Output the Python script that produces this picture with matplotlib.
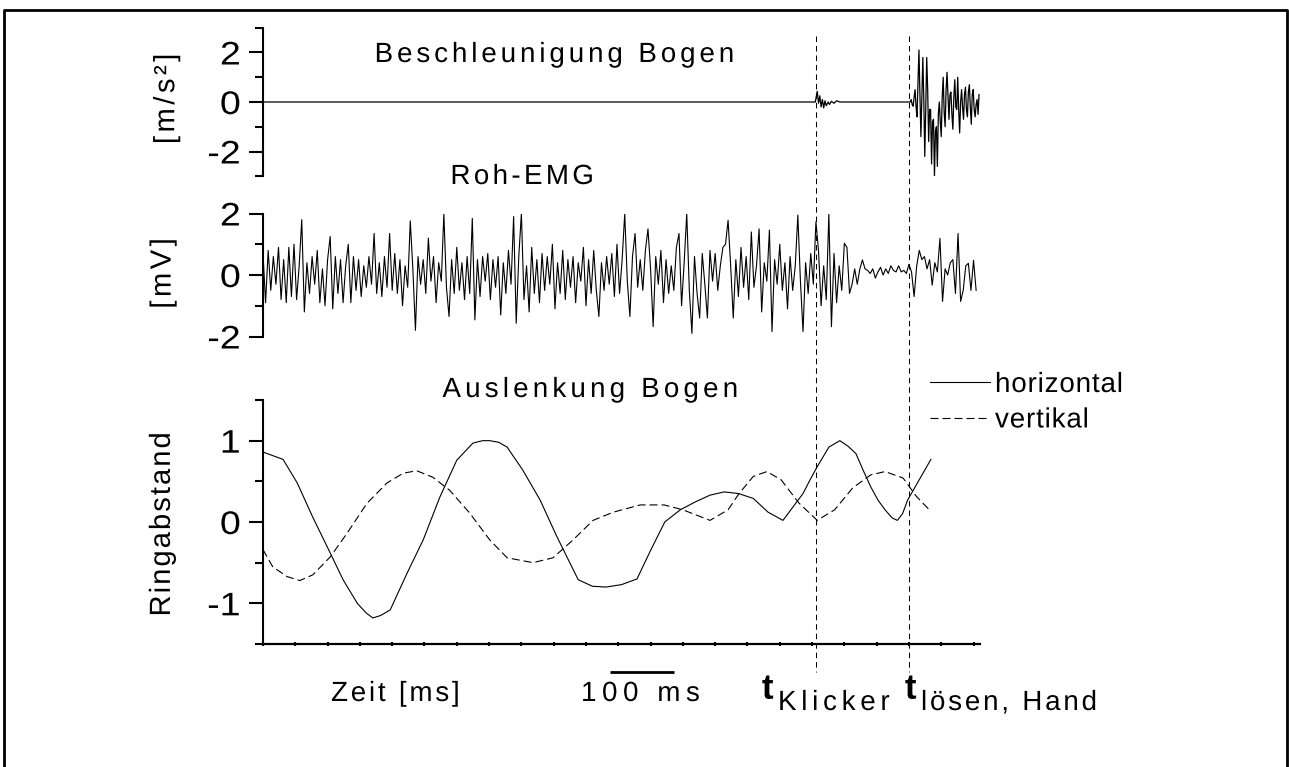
import numpy as np
import matplotlib
matplotlib.use("Agg")
import matplotlib.pyplot as plt
from matplotlib.font_manager import FontProperties, findfont, get_font
from matplotlib.ft2font import LoadFlags
from matplotlib.lines import Line2D
from matplotlib.path import Path
from matplotlib.patheffects import AbstractPathEffect
from matplotlib.textpath import TextPath
from matplotlib.transforms import blended_transform_factory

FAMILY = "Liberation Sans"
plt.rcParams["font.family"] = [FAMILY, "DejaVu Sans"]

# ---------------------------------------------------------------- data
# Bow acceleration [m/s^2]: flat, a short ripple at the clicker, burst at release
acc_quiet_t = [0, 855, 858, 860, 862, 864, 866, 868, 870, 872, 875, 877, 880, 884, 888, 893, 1000]
acc_quiet = [0, 0, 0.43, -0.05, 0.25, -0.2, 0.1, -0.24, 0.05, -0.15, 0.0, -0.1, 0.03, -0.05, 0.05, 0.0, 0.0]
acc_burst_t0 = 1002.0
acc_burst_step = 1.5
acc_burst = [
    0.0, 0.1, -0.1, -0.17, 0.2, 0.5, -0.2, -0.6, 0.8, 2.1,
    0.3, -1.4, 0.2, 1.8, 0.1, -2.2, -0.3, 1.8, 0.5, -1.6,
    -0.3, -0.3, -2.5, -0.8, -0.7, -3.0, -1.2, -1.0, -2.6, -0.5,
    0.0, -0.8, -1.4, 0.2, 1.0, -0.4, -1.0, 0.5, 1.2, 0.2,
    -0.7, 0.3, 0.4, -0.5, -1.1, 0.2, 0.9, -0.2, -0.3, 1.0,
    -0.3, -1.25, 0.0, 0.5, -0.2, -0.7, 0.3, 0.6, -0.3, -0.6,
    0.4, 0.7, -0.2, -0.9, 0.3, 0.5, -0.3, -0.6, -0.1, 0.1,
    -0.5, 0.3,
]

# Raw EMG [mV], one sample every 4 ms
emg_step = 4.0
emg = [
    0.7, -0.9, 0.8, -0.5, 0.6, -0.3, 0.9, -0.8, 0.5, -0.9,
    0.9, -0.7, 1.0, -0.8, 0.3, 1.8, -1.2, 0.4, -0.6, 0.6,
    -0.3, 0.8, -0.9, 0.2, -1.0, 0.5, 1.25, -1.1, 0.6, -0.6,
    0.5, -0.9, 0.3, 1.0, -0.9, 0.6, -0.5, 0.5, -0.7, 0.3,
    -0.4, 0.6, -0.3, 1.35, -0.6, 0.4, -0.7, 0.6, -0.4, 1.35,
    -0.5, 0.7, -0.6, 0.5, -1.0, 0.3, -0.4, 1.76, 0.2, -1.8,
    0.6, -0.3, 0.5, -0.6, 1.2, -0.2, 0.6, -0.9, 0.4, -0.2,
    2.0, -0.4, -1.35, 0.5, -0.6, 0.9, -0.5, 0.4, -0.8, 0.6,
    -0.6, 1.84, -1.46, 0.5, -0.7, 0.6, -0.2, 0.7, -0.8, 0.5,
    -0.4, 0.6, -1.3, 0.4, -0.6, 0.8, -0.3, 1.9, -1.57, 0.6,
    2.0, -0.8, 0.3, -1.2, 0.9, -0.6, 0.5, -0.9, 0.7, -0.5,
    0.6, -0.3, 1.0, -1.1, 0.4, -0.6, 0.8, -0.8, 0.5, -0.4,
    0.6, -0.9, 0.4, -0.2, 0.9, -1.0, 0.5, -0.6, 0.8, -0.5,
    -1.35, 0.4, -0.5, 0.6, -0.3, 0.7, -0.7, 1.0, -0.6, 0.5,
    2.0, -0.2, -1.35, 0.6, 1.35, -0.4, 0.5, -0.5, 0.8, 1.5,
    0.2, -1.68, 0.6, -0.3, 0.8, -0.9, 0.5, -0.6, 0.3, -0.5,
    0.9, 1.35, -1.0, 0.4, 2.0, -0.5, -1.9, 0.6, -0.6, -1.4,
    0.7, -0.3, -1.4, 0.8, -0.2, 0.7, -0.5, 0.3, 0.9, 1.0,
    1.78, 0.3, -1.4, 0.5, -0.7, 0.9, -0.4, 0.6, -0.8, 1.4,
    -0.4, 0.3, 1.5, -1.2, 0.4, -0.2, 1.46, -1.84, 0.5, -0.3,
    1.0, -0.5, 0.4, -1.1, 0.6, -0.5, 0.3, 1.95, -0.2, -1.84,
    0.4, -0.6, 0.7, -0.3, 1.73, 0.8, -1.0, 0.3, -0.8, 2.0,
    -1.68, 0.7, -0.9, 0.3, -0.5, 1.03, 0.9, -0.6, -0.3, 0.2,
    -0.3, 0.2, 0.49, 0.2, 0.15, 0.05, 0.2, -0.1, 0.1, 0.25,
    0.0, 0.2, 0.05, 0.3, 0.15, 0.1, 0.3, 0.1, 0.15, 0.05,
    0.35, 0.1, -0.7, 0.3, 0.8, 0.5, 0.6, 0.2, 0.5, -0.33,
    0.4, 0.1, 1.19, -0.86, 0.2, 0.0, 0.4, 0.5, -0.6, 1.35,
    -0.86, -0.5, 0.3, 0.38, -0.5, 0.48, -0.5,
]

# Bow deflection (ring distance), horizontal and vertical
defl_h_t = [0, 31, 53, 77, 104, 124, 146, 160, 170, 182, 197, 223, 248, 274, 300,
            325, 340, 351, 365, 378, 402, 429, 455, 488, 510, 531, 555, 579, 600, 622,
            646, 670, 692, 714, 736, 759, 782, 805, 820, 836, 847, 858, 876, 893, 906,
            918, 930, 941, 952, 963, 974, 982, 990, 998, 1016, 1034]
defl_h = [0.86, 0.77, 0.48, 0.06, -0.38, -0.71, -1.0, -1.12, -1.18, -1.15, -1.08, -0.63, -0.22, 0.31, 0.76,
          0.97, 1.0, 1.0, 0.98, 0.92, 0.64, 0.27, -0.18, -0.71, -0.79, -0.80, -0.77, -0.70, -0.35, 0.0,
          0.15, 0.25, 0.33, 0.37, 0.35, 0.29, 0.12, 0.02, 0.18, 0.35, 0.52, 0.68, 0.92, 1.0, 0.93,
          0.84, 0.62, 0.43, 0.27, 0.15, 0.05, 0.02, 0.10, 0.27, 0.52, 0.77]
defl_v_t = [0, 15, 37, 57, 77, 104, 130, 161, 192, 217, 238, 263, 289, 320, 351, 378, 418, 449, 480, 511,
            542, 584, 621, 650, 692, 720, 737, 759, 780, 802, 830, 858, 885, 913, 941, 963, 991, 1012, 1034]
defl_v = [-0.34, -0.55, -0.67, -0.72, -0.65, -0.43, -0.14, 0.23, 0.48, 0.60, 0.63, 0.55, 0.39, 0.11, -0.22,
          -0.44, -0.50, -0.44, -0.22, 0.02, 0.12, 0.21, 0.21, 0.15, 0.02, 0.15, 0.35, 0.56, 0.62, 0.52,
          0.23, 0.02, 0.15, 0.42, 0.58, 0.62, 0.54, 0.31, 0.13]

t_clicker = 856.0      # ms
t_release = 1000.0     # ms
scale_bar_start = 537.0
scale_bar_len = 100.0  # ms
t_max = 1110.0

# ---------------------------------------------------------------- text helper
class Tracked(AbstractPathEffect):
    """Draw a text string with extra letter spacing and optional horizontal stretch."""

    def __init__(self, text, prop, tracking=0.0, stretch=1.0, ha="center"):
        super().__init__()
        font = get_font(findfont(prop))
        font.set_size(100, 72)
        pieces, pen, natural = [], 0.0, 0.0
        for ch in text:
            adv = font.load_char(ord(ch), flags=LoadFlags.NO_HINTING).linearHoriAdvance / 65536.0
            if not ch.isspace():
                tp = TextPath((0, 0), ch, size=100, prop=prop)
                v = tp.vertices.copy()
                v[:, 0] += pen
                pieces.append(Path(v, tp.codes))
            pen += adv + tracking * 100
            natural += adv
        new_w = (pen - tracking * 100) * stretch
        shift = {"left": 0.0, "center": (natural - new_w) / 2, "right": natural - new_w}[ha]
        path = Path.make_compound_path(*pieces)
        v = path.vertices.copy()
        v[:, 0] = v[:, 0] * stretch + shift
        self._path = Path(v, path.codes)

    def draw_path(self, renderer, gc, tpath, affine, rgbFace=None):
        renderer.draw_path(gc, self._path, affine, rgbFace)


def track(txt, tracking, stretch=1.0, ha=None):
    ha = ha or txt.get_horizontalalignment()
    txt.set_path_effects([Tracked(txt.get_text(), txt.get_fontproperties(), tracking, stretch, ha)])
    return txt


# ---------------------------------------------------------------- figure
W, H, DPI = 1289, 767, 100
fig = plt.figure(figsize=(W / DPI, H / DPI), dpi=DPI)


def fx(px):
    return px / W


def fy(py):
    return 1.0 - py / H


X_LEFT, X_RIGHT = 263, 980


def panel(top, bottom):
    return fig.add_axes([fx(X_LEFT), fy(bottom), (X_RIGHT - X_LEFT) / W, (bottom - top) / H])


ax_acc = panel(27.75, 176.25)
ax_emg = panel(213.5, 336.5)
ax_def = panel(400, 644)

TEXT_PT = 20
TICK_PT = 23.5
LINE_W = 0.8

for ax, lim, major, minor in [
    (ax_acc, (-3, 3), [-2, 0, 2], [-3, -1, 1, 3]),
    (ax_emg, (-2, 2), [-2, 0, 2], [-1, 1]),
    (ax_def, (-1.5, 1.5), [-1, 0, 1], [-1.5, -0.5, 0.5, 1.5]),
]:
    ax.set_xlim(0, t_max)
    ax.set_ylim(*lim)
    ax.set_facecolor("none")
    for side in ("top", "right"):
        ax.spines[side].set_visible(False)
    ax.spines["left"].set_linewidth(1.5)
    ax.set_yticks(major, [str(m) for m in major])
    ax.set_yticks(minor, minor=True)
    ax.tick_params(axis="y", which="major", direction="out", length=10, width=1.5,
                   labelsize=TICK_PT, pad=6)
    ax.tick_params(axis="y", which="minor", direction="out", length=6, width=1.5)

for ax in (ax_acc, ax_emg):
    ax.spines["bottom"].set_visible(False)
    ax.tick_params(axis="x", which="both", bottom=False, labelbottom=False)

ax_def.spines["bottom"].set_linewidth(1.6)
ax_def.set_xticks(np.arange(0, 1101, 50))
ax_def.tick_params(axis="x", which="major", direction="inout", length=3, width=1.5,
                   labelbottom=False)

# ---- signals
acc_t = np.concatenate([acc_quiet_t, acc_burst_t0 + acc_burst_step * np.arange(len(acc_burst))])
acc_v = np.concatenate([acc_quiet, acc_burst])
ax_acc.plot(acc_t, acc_v, color="black", lw=0.9)

ax_emg.plot(np.arange(len(emg)) * emg_step, emg, color="black", lw=LINE_W)

ax_def.plot(defl_h_t, defl_h, color="black", lw=LINE_W, label="horizontal")
ax_def.plot(defl_v_t, defl_v, color="black", lw=LINE_W, ls=(0, (7.2, 3.6)), label="vertikal")

# ---- axis labels
for ax, label, (cx, cy), trk in [
    (ax_acc, "[m/s²]", (-0.135, 0.52), 0.12),
    (ax_emg, "[mV]", (-0.14, 0.512), 0.12),
    (ax_def, "Ringabstand", (-0.141, 0.49), 0.07),
]:
    ax.set_ylabel(label, fontsize=TEXT_PT + 1, va="center")
    ax.yaxis.set_label_coords(cx, cy)
    track(ax.yaxis.label, trk)

for ax in (ax_acc, ax_emg, ax_def):
    for lab in ax.get_yticklabels():
        track(lab, 0.0, stretch=1.15, ha="right")

# ---- panel titles
for text, cx, base, trk in [("Beschleunigung Bogen", 554, 62, 0.14),
                            ("Roh-EMG", 522, 184, 0.12),
                            ("Auslenkung Bogen", 590, 397, 0.15)]:
    track(fig.text(fx(cx), fy(base), text, fontsize=TEXT_PT, ha="center", va="baseline"), trk)

# ---- legend
leg = ax_def.legend(loc="upper left", bbox_to_anchor=(fx(930), fy(372)),
                    bbox_transform=fig.transFigure, frameon=False, borderpad=0,
                    borderaxespad=0, handlelength=2.16, handletextpad=0.18,
                    labelspacing=0.34, prop=FontProperties(family=FAMILY, size=TEXT_PT))
for t in leg.get_texts():
    track(t, 0.03)

# ---- event markers spanning all panels
xdata_yfig = blended_transform_factory(ax_def.transData, fig.transFigure)
for te in (t_clicker, t_release):
    fig.add_artist(Line2D([te, te], [fy(36), fy(672)], transform=xdata_yfig, color="black",
                          lw=0.75, ls=(0, (5.3, 3.8))))

# ---- time scale bar and bottom annotations
fig.add_artist(Line2D([scale_bar_start, scale_bar_start + scale_bar_len], [fy(672), fy(672)],
                      transform=xdata_yfig, color="black", lw=2.0, solid_capstyle="butt"))

BASE = 701
track(fig.text(fx(331), fy(BASE), "Zeit [ms]", fontsize=TEXT_PT, ha="left", va="baseline"), 0.10)
track(fig.text(fx(581), fy(BASE), "100 ms", fontsize=TEXT_PT, ha="left", va="baseline"), 0.2)
fig.text(fx(762), fy(BASE - 2), "t", fontsize=25, fontweight="bold", ha="left", va="baseline")
track(fig.text(fx(778), fy(BASE + 9), "Klicker", fontsize=TEXT_PT, ha="left", va="baseline"), 0.17)
fig.text(fx(905), fy(BASE - 2), "t", fontsize=25, fontweight="bold", ha="left", va="baseline")
track(fig.text(fx(921), fy(BASE + 9), "lösen, Hand", fontsize=TEXT_PT, ha="left", va="baseline"), 0.1)

# ---- outer frame
fig.add_artist(Line2D([fx(4), fx(4), fx(1287), fx(1287)], [0, fy(10), fy(10), 0],
                      transform=fig.transFigure, color="black", lw=2.0))

fig.savefig("out.png", dpi=DPI)
